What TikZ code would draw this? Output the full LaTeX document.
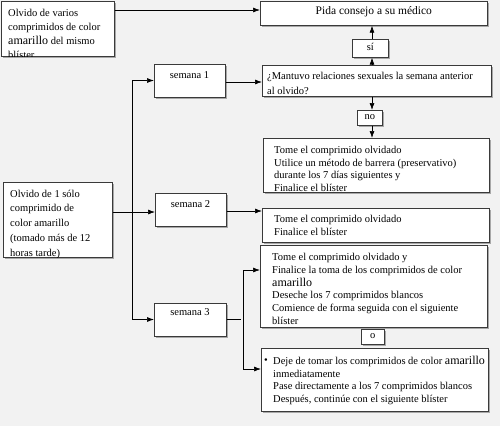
\documentclass[tikz,border=0pt]{standalone}
\usepackage{fontspec}
\setmainfont{Liberation Serif}
\usetikzlibrary{arrows.meta,shadows,calc}
\definecolor{bg}{HTML}{F2F2F2}
\definecolor{bd}{HTML}{3A3A3A}
\newcommand\bigam[1]{{\fontsize{12}{12}\selectfont #1}}
\begin{document}
\begin{tikzpicture}[x=1pt,y=-1pt,
  box/.style={draw=bd, fill=white, line width=0.7pt, inner sep=0pt, anchor=north west,
    drop shadow={shadow xshift=1.2pt, shadow yshift=-1.2pt, opacity=0.3, fill=black}},
  txt/.style={anchor=north west, inner sep=0pt, align=left},
  lbl/.style={inner sep=0pt, font=\fontsize{10.5}{12}\selectfont},
  arr/.style={draw=black, line width=0.7pt, -{Latex[length=7pt,width=5pt]}},
  ln/.style={draw=black, line width=0.7pt}]
\fill[bg] (0,0) rectangle (500,426);
\useasboundingbox (0,0) rectangle (500,426);
% boxes
\node[box, minimum width=113pt, minimum height=55pt] (A) at (1,1) {};
\node[box, minimum width=227pt, minimum height=24pt] (pida) at (260,1) {};
\node[box, minimum width=36pt, minimum height=18pt] (si) at (352,39) {};
\node[box, minimum width=229pt, minimum height=31pt] (mant) at (262,65) {};
\node[box, minimum width=25pt, minimum height=15pt] (no) at (357,110) {};
\node[box, minimum width=226pt, minimum height=54pt] (tome1) at (263,138) {};
\node[box, minimum width=227pt, minimum height=34pt] (tome2) at (262,208) {};
\node[box, minimum width=227pt, minimum height=82pt] (tome3) at (260,245) {};
\node[box, minimum width=23pt, minimum height=15pt] (o) at (361,329) {};
\node[box, minimum width=227pt, minimum height=63pt] (last) at (261,348) {};
\node[box, minimum width=109pt, minimum height=75pt] (left) at (3,182) {};
\node[box, minimum width=71pt, minimum height=33pt] (s1) at (154,64) {};
\node[box, minimum width=71pt, minimum height=33pt] (s2) at (155,193) {};
\node[box, minimum width=72pt, minimum height=33pt] (s3) at (154,303) {};
% texts
\begin{scope}
\clip (A.north west) rectangle (A.south east);
\node[txt, font=\fontsize{10.5}{14}\selectfont] (At) at (8,9.5) {Olvido de varios\\comprimidos de color\\\bigam{amarillo} del mismo\\blíster};
\end{scope}
\node[lbl, font=\fontsize{11.5}{12}\selectfont] (pidat) at ($(pida.center)+(0,-1.5)$) {Pida consejo a su médico};
\node[lbl] (sit) at ($(si.center)+(0,-1)$) {sí};
\node[lbl] (not) at ($(no.center)+(0,-1)$) {no};
\node[lbl] (ot) at ($(o.center)+(0,-1)$) {o};
\node[txt, font=\fontsize{10.5}{15}\selectfont] (mantt) at (267,72) {¿Mantuvo relaciones sexuales la semana anterior\\al olvido?};
\node[txt, font=\fontsize{10.5}{12.7}\selectfont] (tome1t) at (274,146) {Tome el comprimido olvidado\\Utilice un método de barrera (preservativo)\\durante los 7 días siguientes y\\Finalice el blíster};
\node[txt, font=\fontsize{10.5}{13}\selectfont] (tome2t) at (274,215) {Tome el comprimido olvidado\\Finalice el blíster};
\begin{scope}
\clip (tome3.north west) rectangle (tome3.south east);
\node[txt, font=\fontsize{10.5}{12.8}\selectfont] (tome3t) at (272,253) {Tome el comprimido olvidado y\\Finalice la toma de los comprimidos de color\\\bigam{amarillo}\\Deseche los 7 comprimidos blancos\\Comience de forma seguida con el siguiente\\blíster};
\end{scope}
\node[lbl] (bul) at (266,361) {•};
\node[txt, font=\fontsize{10.5}{12.7}\selectfont] (lastt) at (273,356) {Deje de tomar los comprimidos de color \bigam{amarillo}\\inmediatamente\\Pase directamente a los 7 comprimidos blancos\\Después, continúe con el siguiente blíster};
\begin{scope}
\clip (left.north west) rectangle (left.south east);
\node[txt, font=\fontsize{10.5}{14.8}\selectfont] (leftt) at (10,189.5) {Olvido de 1 sólo\\comprimido de\\color amarillo\\(tomado más de 12\\horas tarde)};
\end{scope}
\node[lbl] (s1t) at (189.5,75.5) {semana 1};
\node[lbl] (s2t) at (190.5,204.5) {semana 2};
\node[lbl] (s3t) at (190,312.5) {semana 3};
% connectors
\draw[arr] (A.east |- 0,10) -- (pida.west |- 0,10);
\draw[arr] (mant.north -| 372,0) -- (si.south -| 372,0);
\draw[arr] (si.north -| 372,0) -- (pida.south -| 372,0);
\draw[arr] (mant.south -| 372,0) -- (no.north -| 372,0);
\draw[arr] (no.south -| 372,0) -- (tome1.north -| 372,0);
\draw[arr] (left.east |- 0,212) -- (s2.west |- 0,212);
\coordinate (t1) at (132,80.5);
\coordinate (t3) at (132,319.5);
\draw[ln] (t1) -- (t3);
\draw[arr] (t1) -- (s1.west |- t1);
\draw[arr] (t3) -- (s3.west |- t3);
\draw[arr] (s1.east |- 0,82) -- (mant.west |- 0,82);
\draw[arr] (s2.east |- 0,211) -- (tome2.west |- 0,211);
\coordinate (b0) at (241,319.5);
\coordinate (b1) at (243,270);
\coordinate (b2) at (243,369);
\draw[ln] (s3.east |- b0) -- (b0);
\draw[ln] (b1) -- (b2);
\draw[arr] (b1) -- (tome3.west |- b1);
\draw[arr] (b2) -- (last.west |- b2);
\end{tikzpicture}
\end{document}
